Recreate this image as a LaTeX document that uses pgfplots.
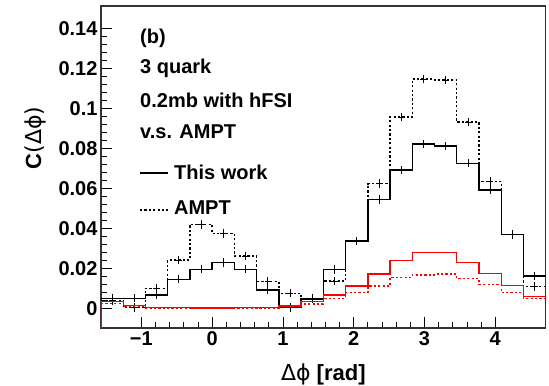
\documentclass[border=0pt]{standalone}
\usepackage{fontspec}
\setmainfont{Liberation Sans}
\newfontfamily\dejavu{DejaVu Sans}
\usepackage{pgfplots}
\usepackage{pgfplotstable}
\pgfplotsset{compat=1.18}

\pgfplotstableread{
edge c ts ta rs ra
-1.5708 -1.4137 0.0052 0.0040 0.0035 0.0025
-1.2566 -1.0996 0.0052 0.0005 0.0017 0.0010
-0.9425 -0.7854 0.0068 0.0102 0.0006 0.0004
-0.6283 -0.4712 0.0147 0.0243 0.0005 0.0003
-0.3142 -0.1571 0.0197 0.0421 0.0004 0.0003
0.0000 0.1571 0.0230 0.0376 0.0004 0.0003
0.3142 0.4712 0.0197 0.0263 0.0005 0.0003
0.6283 0.7854 0.0093 0.0135 0.0006 0.0003
0.9425 1.0996 0.0005 0.0077 0.0013 0.0010
1.2566 1.4137 0.0048 0.0052 0.0035 0.0023
1.5708 1.7279 0.0195 0.0138 0.0068 0.0052
1.8850 2.0420 0.0337 0.0337 0.0113 0.0080
2.1991 2.3562 0.0545 0.0624 0.0173 0.0113
2.5133 2.6704 0.0692 0.0956 0.0240 0.0157
2.8274 2.9845 0.0822 0.1147 0.0280 0.0168
3.1416 3.2987 0.0812 0.1142 0.0280 0.0173
3.4558 3.6128 0.0726 0.0931 0.0230 0.0150
3.7699 3.9270 0.0593 0.0634 0.0175 0.0120
4.0841 4.2412 0.0370 0.0370 0.0115 0.0080
4.3982 4.5553 0.0163 0.0110 0.0062 0.0050
4.7124 4.7124 0.0163 0.0110 0.0062 0.0050
}\hist

\begin{document}
\begin{tikzpicture}
\begin{axis}[
  scale only axis, width=444.7bp, height=322bp,
  xmin=-1.5708, xmax=4.7124, ymin=-0.00964, ymax=0.1511,
  xtick={-1,0,1,2,3,4}, xticklabels={−1,0,1,2,3,4},
  ytick={0,0.02,0.04,0.06,0.08,0.1,0.12,0.14},
  yticklabels={0,0.02,0.04,0.06,0.08,0.1,0.12,0.14},
  minor x tick num=4, minor y tick num=4,
  tick pos=left, tick align=inside,
  major tick length=11bp, minor tick length=6bp,
  axis line style={line width=1.2bp, black!80},
  every tick/.style={black, line width=0.9bp},
  /pgf/number format/assume math mode=true,
  tick label style={font=\fontsize{20bp}{24bp}\selectfont\bfseries},
  xlabel={{\dejavu\mdseries Δϕ} [rad]},
  ylabel={C{\dejavu\mdseries (Δϕ)}},
  xlabel style={at={(axis description cs:0.5,-0.1615)}, anchor=base, font=\fontsize{22bp}{26bp}\selectfont\bfseries},
  ylabel style={at={(axis description cs:-0.1484,0.59)}, anchor=center, font=\fontsize{22bp}{26bp}\selectfont\bfseries},
  clip=true,
]
\addplot[black, line width=1.4bp, const plot mark left] table[x=edge, y=ts] {\hist};
\addplot[black, line width=1.4bp, dash pattern=on 2.2bp off 2.2bp, const plot mark left] table[x=edge, y=ta] {\hist};
\addplot[draw=none, mark=none, skip coords between index={20}{21},
  error bars/.cd, y dir=both, y fixed=0.0021, x dir=both, x fixed=0.045,
  error mark=none, error bar style={draw=black, solid, line width=0.75bp}] table[x=c, y=ts] {\hist};
\addplot[draw=none, mark=none, skip coords between index={20}{21},
  error bars/.cd, y dir=both, y fixed=0.0021, x dir=both, x fixed=0.045,
  error mark=none, error bar style={draw=black, solid, line width=0.75bp}] table[x=c, y=ta] {\hist};
\addplot[red, line width=1.4bp] coordinates {(-1.5708,-0.00964) (-1.5708,0.0035)};
\addplot[red, line width=1.4bp, const plot mark left] table[x=edge, y=rs] {\hist};
\addplot[red, line width=1.4bp, dash pattern=on 2.2bp off 2.2bp, const plot mark left] table[x=edge, y=ra] {\hist};

\begin{scope}[every node/.style={anchor=base west, inner sep=0pt, font=\fontsize{20bp}{24bp}\selectfont\bfseries}]
\node at (axis description cs:0.0877,0.882) {(b)};
\node at (axis description cs:0.0877,0.789) {3 quark};
\node at (axis description cs:0.0877,0.685) {0.2mb with hFSI};
\node at (axis description cs:0.0877,0.589) {v.s. AMPT};
\node at (axis description cs:0.164,0.460) {This work};
\node at (axis description cs:0.164,0.351) {AMPT};
\end{scope}
\draw[black, line width=1.4bp] (axis description cs:0.0877,0.481) -- (axis description cs:0.151,0.481);
\draw[black, line width=1.4bp, dash pattern=on 2.2bp off 2.2bp] (axis description cs:0.0877,0.366) -- (axis description cs:0.151,0.366);
\coordinate (sw) at (axis description cs:0,0);
\coordinate (ne) at (axis description cs:1,1);
\end{axis}
\pgfresetboundingbox
\path (sw) ++(-101bp,-58bp) coordinate (bl);
\path (ne) ++(3.3bp,6bp) coordinate (tr);
\useasboundingbox (bl) rectangle (tr);
\end{tikzpicture}
\end{document}
